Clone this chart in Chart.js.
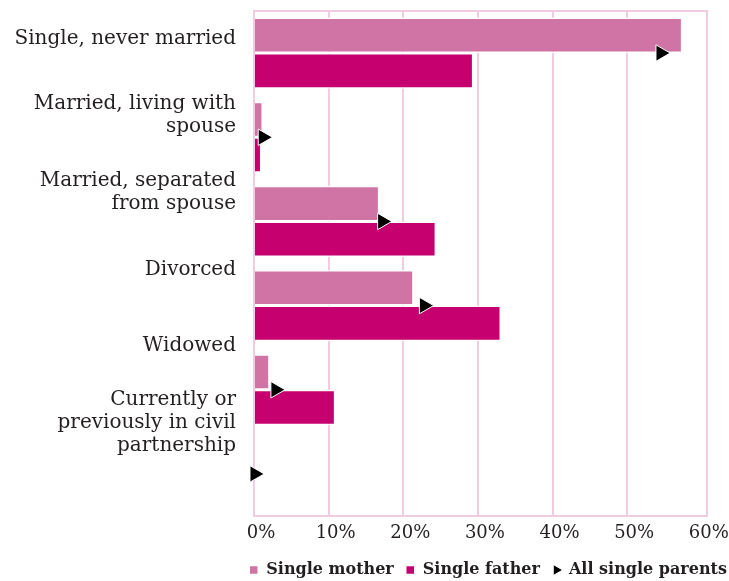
<!DOCTYPE html>
<html>
<head>
<meta charset="utf-8">
<script src="https://cdn.jsdelivr.net/npm/chart.js@4"></script>
<style>
  html, body { margin: 0; padding: 0; background: #fff; }
  #wrap { width: 729px; height: 581px; }
</style>
</head>
<body>
<div id="wrap"><canvas id="myChart"></canvas></div>
<script>
const categories = [
  ["Single, never married"],
  ["Married, living with", "spouse"],
  ["Married, separated", "from spouse"],
  ["Divorced"],
  ["Widowed"],
  ["Currently or", "previously in civil", "partnership"]
];
const singleMother = [57.4, 1.2, 16.8, 21.4, 2.1, 0];
const singleFather = [29.4, 1.0, 24.4, 33.1, 10.9, 0];
const allSingleParents = [54.5, 1.2, 17.2, 22.8, 2.9, 0.1];
const xTicks = [0, 10, 20, 30, 40, 50, 60];

const motherPink = "#d074a6";
const fatherPink = "#c6006e";
const gridPink = "#f1cbe1";
const textColor = "#231f20";

Chart.defaults.font.family = "'DejaVu Serif', serif";
Chart.defaults.color = textColor;

// pink frame round the plot
const frame = {
  id: "frame",
  beforeDatasetsDraw(chart) {
    const { ctx, chartArea: a } = chart;
    ctx.save();
    ctx.strokeStyle = gridPink;
    ctx.lineWidth = 2;
    ctx.strokeRect(a.left, a.top, a.right - a.left, a.bottom - a.top);
    ctx.restore();
  }
};

new Chart(document.getElementById("myChart"), {
  type: "bar",
  data: {
    labels: categories,
    datasets: [
      {
        label: "Single mother",
        data: singleMother,
        backgroundColor: motherPink,
        borderColor: "#fff",
        borderWidth: 1.5,
        pointStyle: "rect",
        categoryPercentage: 0.845,
        barPercentage: 1
      },
      {
        label: "Single father",
        data: singleFather,
        backgroundColor: fatherPink,
        borderColor: "#fff",
        borderWidth: 1.5,
        pointStyle: "rect",
        categoryPercentage: 0.845,
        barPercentage: 1
      },
      {
        type: "line",
        label: "All single parents",
        data: allSingleParents,
        indexAxis: "y",
        showLine: false,
        clip: false,
        order: -1,
        pointStyle: "triangle",
        pointRotation: 90,
        pointRadius: 9.5,
        pointBackgroundColor: "#000",
        pointBorderColor: "#fff",
        pointBorderWidth: 1,
        backgroundColor: "#000",
        borderColor: "#fff"
      }
    ]
  },
  options: {
    indexAxis: "y",
    responsive: true,
    maintainAspectRatio: false,
    animation: false,
    layout: { padding: { top: 11, right: -10, left: 0, bottom: -7 } },
    scales: {
      x: {
        min: 0,
        max: 60.7,
        afterBuildTicks: (s) => { s.ticks = xTicks.map(v => ({ value: v })); },
        afterFit: (s) => { s.height = 34; s.paddingRight = 22; s.paddingLeft = 0; },
        grid: {
          color: (c) => (c.tick && c.tick.value === 60 ? "rgba(0,0,0,0)" : gridPink),
          lineWidth: 2,
          drawTicks: false
        },
        border: { display: false },
        ticks: {
          callback: (v) => v + "%",
          color: textColor,
          font: { size: 18 },
          padding: 7,
          labelOffset: 7,
          autoSkip: false,
          maxRotation: 0
        }
      },
      y: { display: false },
      // category names sit a little above the bar groups, as in the source
      labelsAxis: {
        type: "linear",
        axis: "y",
        position: "left",
        reverse: true,
        offset: false,
        min: -0.36,
        max: 6.207,
        afterBuildTicks: (s) => { s.ticks = categories.map((c, i) => ({ value: i })); },
        afterFit: (s) => { s.width = 254; s.paddingTop = 0; s.paddingBottom = 0; },
        grid: { display: false, drawTicks: false },
        border: { display: false },
        ticks: {
          callback: (v) => categories[v],
          padding: 18,
          color: textColor,
          font: { size: 20, lineHeight: 1.15 },
          autoSkip: false
        }
      }
    },
    plugins: {
      tooltip: { enabled: false },
      legend: {
        position: "bottom",
        align: "end",
        labels: {
          usePointStyle: true,
          boxWidth: 9,
          boxHeight: 9,
          padding: 12,
          color: textColor,
          font: { size: 16, weight: "bold" },
          sort: (a, b) => a.datasetIndex - b.datasetIndex
        }
      }
    }
  },
  plugins: [frame]
});
</script>
</body>
</html>
